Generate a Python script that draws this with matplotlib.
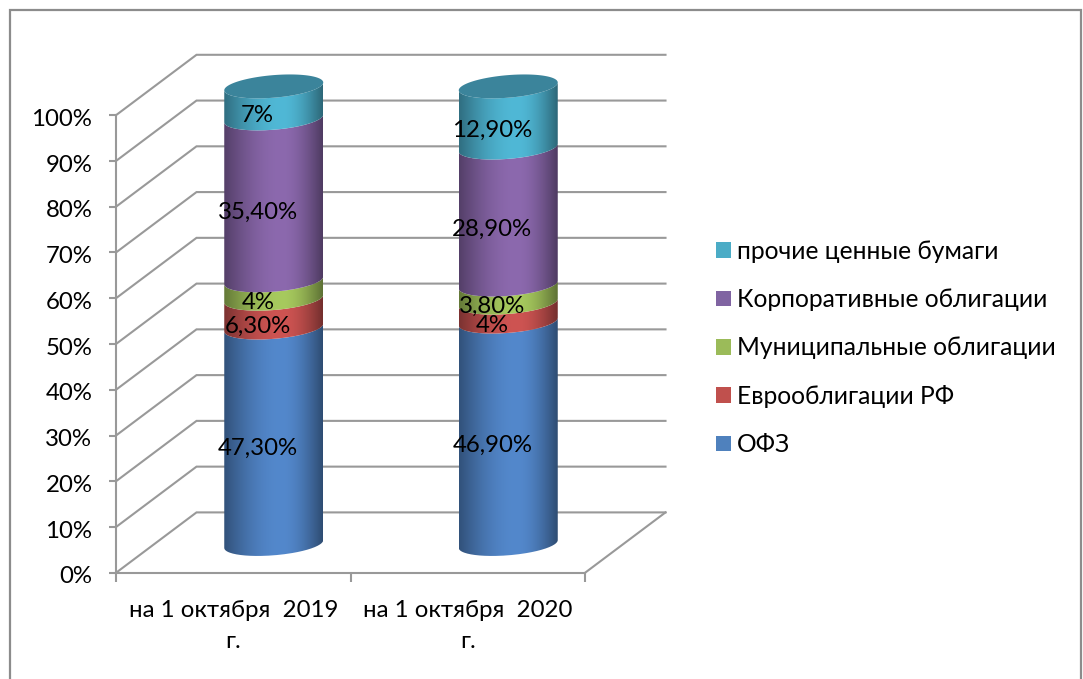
import numpy as np
import matplotlib
matplotlib.use('Agg')
import matplotlib.pyplot as plt
from matplotlib.path import Path
from matplotlib.patches import PathPatch, Patch, Rectangle
from matplotlib.transforms import ScaledTranslation

categories = ['на 1 октября  2019\nг.', 'на 1 октября  2020\nг.']
series_names = ['ОФЗ', 'Еврооблигации РФ', 'Муниципальные облигации',
                'Корпоративные облигации', 'прочие ценные бумаги']
ofz = [47.3, 46.9]
euro = [6.3, 4.0]
muni = [4.0, 3.8]
corp = [35.4, 28.9]
other = [7.0, 12.9]
value_labels = [['47,30%', '46,90%'], ['6,30%', '4%'], ['4%', '3,80%'],
                ['35,40%', '28,90%'], ['7%', '12,90%']]
series_colors = ['#5388CC', '#CE5452', '#A7CA5E', '#8C69AE', '#50B8D6']
legend_colors = ['#4F81BD', '#C0504D', '#9BBB59', '#8064A2', '#4BACC6']
top_color = '#3B849B'
grid_color = '#999999'
yticks = list(range(0, 101, 10))

W, H = 1083, 679
PX = 234.5    # pixels per category
PY = 4.576    # pixels per percent
X0, Y0 = 116, 572.8
FS = 17.3
LW = 1.5

plt.rcParams['font.family'] = ['Lato', 'Noto Sans', 'DejaVu Sans']
fig = plt.figure(figsize=(W / 100, H / 100), dpi=100)
ax = fig.add_axes([0, 0, 1, 1])
ax.patch.set_alpha(0)

# depth of the fake 3d box
dx = 80.5 / PX
dy = 60.4 / PY

# outer frame, runs off the bottom of the picture
fig.add_artist(Rectangle((10 / W, -0.1), (W - 12) / W, 1.1 - 10 / H, transform=fig.transFigure,
                         fill=False, ec='#8c8c8c', lw=1.6))

# axes lines, ticks sit on the moved spines
for s in ['top', 'right']:
    ax.spines[s].set_visible(False)
ax.spines['left'].set_position(('data', 0))
ax.spines['bottom'].set_position(('data', 0))
ax.spines['left'].set_bounds(0, 100)
ax.spines['bottom'].set_bounds(0, 2)
for s in ['left', 'bottom']:
    ax.spines[s].set_color(grid_color)
    ax.spines[s].set_linewidth(LW)

ax.set_yticks(yticks)
ax.set_yticklabels(['%d%%' % v for v in yticks], fontsize=FS)
ax.set_xticks([0, 1, 2])
ax.set_xticklabels([])
ax.set_xticks([0.5, 1.5], minor=True)
ax.set_xticklabels(categories, minor=True, fontsize=FS, linespacing=1.6)
ax.tick_params(axis='y', length=5, width=LW, color=grid_color, pad=12)
ax.tick_params(axis='x', which='major', length=6.5, width=LW, color=grid_color)
ax.tick_params(axis='x', which='minor', length=0, pad=19.5)

# labels sit a little low in the original
nudge = ScaledTranslation(0, -1.5 / 72, fig.dpi_scale_trans)
for lab in ax.get_yticklabels():
    lab.set_transform(lab.get_transform() + nudge)

# walls and floor
for v in yticks:
    ax.plot([0, dx, 2 + dx], [v, v + dy, v + dy], color=grid_color, lw=LW, zorder=1,
            solid_joinstyle='miter')
ax.plot([2, 2 + dx], [0, dy], color=grid_color, lw=LW, zorder=1)


def arc(cx, level, t):
    # tilted ellipse around the cylinder axis, right side sits higher
    x = cx + 49.5 / PX * np.cos(t)
    y = level + (3.9 * np.cos(t) + 11.3 * np.sin(t)) / PY
    return x, y


def shade(hex_color):
    c = np.array(matplotlib.colors.to_rgb(hex_color))
    u = np.linspace(0, 1, 200)
    f = np.where(u < 0.58, 0.6 + 0.4 * np.sin(u / 0.58 * np.pi / 2),
                 0.56 + 0.44 * np.cos((u - 0.58) / 0.42 * np.pi / 2))
    return (c[None, None, :] * f[None, :, None]).clip(0, 1)


series = np.array([ofz, euro, muni, corp, other])
shares = series / series.sum(axis=0) * 100   # stacked to 100%
cyl_r = 49.5 / PX
cyl_lift = 28.8 / PY

for i in range(len(categories)):
    cx = i + 0.5 + 40.5 / PX
    bottom = cyl_lift
    for k in range(len(series_names)):
        top = bottom + shares[k, i]
        t = np.linspace(np.pi, 2 * np.pi, 80)
        x1, y1 = arc(cx, bottom, t)
        x2, y2 = arc(cx, top, t[::-1])
        verts = np.r_[np.c_[x1, y1], np.c_[x2, y2], [[x1[0], y1[0]]]]
        clip = PathPatch(Path(verts), fc='none', ec='none', transform=ax.transData)
        ax.add_patch(clip)
        im = ax.imshow(shade(series_colors[k]), extent=[cx - cyl_r, cx + cyl_r, bottom - 5, top + 5],
                       aspect='auto', zorder=3, interpolation='bilinear')
        im.set_clip_path(clip)
        # label sits near the middle of the band, shifted left of the axis
        ax.text(cx - 16 / PX, (bottom + top) / 2 - 13 / PY, value_labels[k][i], fontsize=FS,
                ha='center', va='center', color='black', zorder=5)
        bottom = top
    t = np.linspace(0, 2 * np.pi, 100)
    xt, yt = arc(cx, bottom, t)
    ax.fill(xt, yt, color=top_color, lw=0, zorder=4)

# imshow resets the limits, so set them last
ax.set_xlim(-X0 / PX, (W - X0) / PX)
ax.set_ylim((Y0 - H) / PY, Y0 / PY)

handles = [Patch(fc=c, ec='none') for c in legend_colors[::-1]]
ax.legend(handles, series_names[::-1], loc='center left', bbox_to_anchor=(716 / W, 1 - 348 / H),
          frameon=False, fontsize=FS + 0.4, handlelength=0.62, handleheight=0.62, handletextpad=0.22,
          labelspacing=1.03, borderpad=0, borderaxespad=0)

fig.savefig('out.png', dpi=100)
